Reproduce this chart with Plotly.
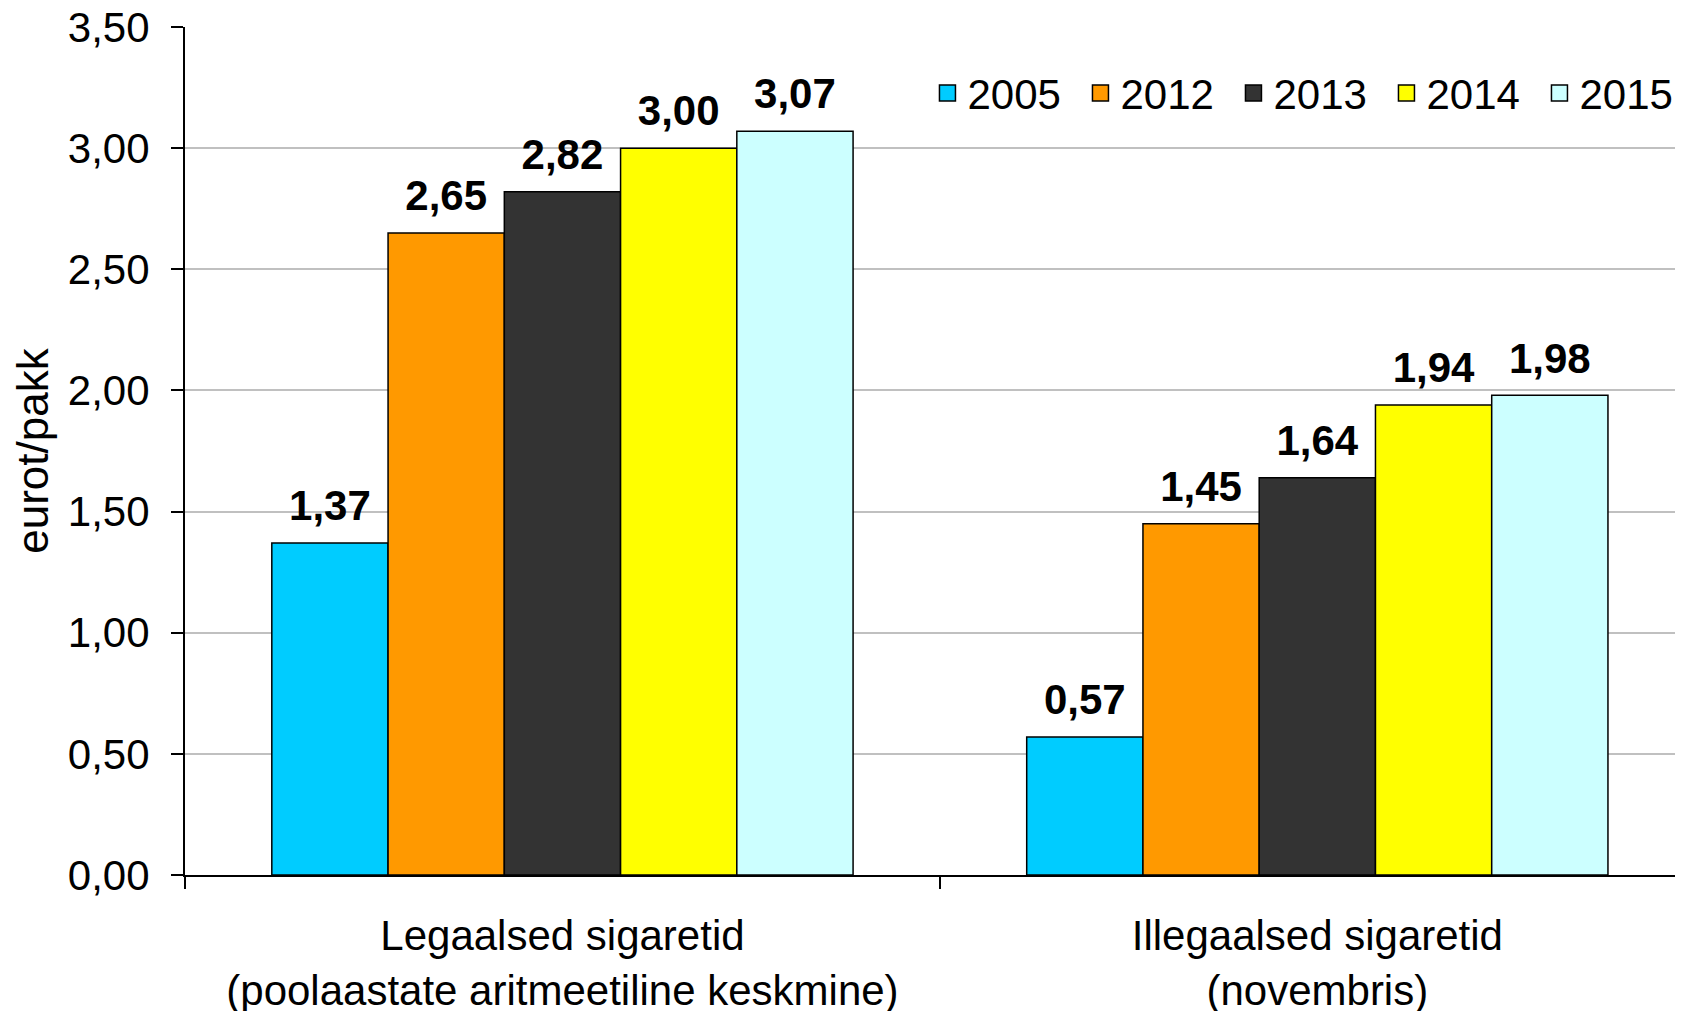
import plotly.graph_objects as go

categories = ["Legaalsed sigaretid<br>(poolaastate aritmeetiline keskmine)",
              "Illegaalsed sigaretid<br>(novembris)"]
years = ["2005", "2012", "2013", "2014", "2015"]
values = {
    "2005": [1.37, 0.57],
    "2012": [2.65, 1.45],
    "2013": [2.82, 1.64],
    "2014": [3.00, 1.94],
    "2015": [3.07, 1.98],
}
colors = {"2005": "#00CCFF", "2012": "#FF9900", "2013": "#333333",
          "2014": "#FFFF00", "2015": "#CCFFFF"}
y_ticks = [0, 0.5, 1, 1.5, 2, 2.5, 3, 3.5]
y_tick_labels = [f"{v:.2f}".replace(".", ",") for v in y_ticks]

FONT = "Liberation Sans, Arial, sans-serif"
FS = 42

fig = go.Figure()
for yr in years:
    vals = values[yr]
    fig.add_trace(go.Bar(
        name=yr, x=categories, y=vals, offsetgroup=yr, showlegend=False,
        marker=dict(color=colors[yr], line=dict(color="black", width=1.5)),
    ))
for yr in years:
    vals = values[yr]
    txt = [f"<b>{v:.2f}</b>".replace(".", ",") for v in vals]
    fig.add_trace(go.Scatter(
        x=categories, y=vals, offsetgroup=yr, mode="markers+text",
        text=txt, textposition="top center", cliponaxis=False,
        marker=dict(size=18, color="rgba(0,0,0,0)"), hoverinfo="skip",
        textfont=dict(family=FONT, size=FS, color="black"), showlegend=False,
    ))
for yr in years:
    fig.add_trace(go.Scatter(
        x=[None], y=[None], offsetgroup=yr, mode="markers", name=yr,
        marker=dict(symbol="square", size=20, color=colors[yr],
                    line=dict(color="black", width=1.5)),
    ))

fig.update_layout(
    width=1683, height=1011,
    margin=dict(l=177, r=0, t=19, b=144, autoexpand=False),
    paper_bgcolor="white", plot_bgcolor="white",
    barmode="group", bargap=0.23, bargroupgap=0,
    scattermode="group", scattergap=0.23,
    font=dict(family=FONT, size=FS, color="black"),
    showlegend=True,
    legend=dict(orientation="h", xref="paper", yref="paper",
                x=0.493, y=0.922, xanchor="left", yanchor="middle",
                font=dict(family=FONT, size=FS, color="black"),
                entrywidth=108, bgcolor="rgba(0,0,0,0)",
                traceorder="normal", itemsizing="trace", itemwidth=30),
    xaxis=dict(type="category", range=[-0.5, 1.495], automargin=False,
               showline=True, linecolor="black", linewidth=2,
               ticks="outside", tickson="boundaries", ticklen=12,
               tickcolor="black", tickwidth=2,
               ticklabelstandoff=23, ticklabeloverflow="allow",
               tickfont=dict(family=FONT, size=FS)),
    yaxis=dict(range=[0, 3.5], tickvals=y_ticks, ticktext=y_tick_labels,
               automargin=False, ticklabeloverflow="allow",
               showline=True, linecolor="black", linewidth=2,
               ticks="outside", ticklen=12, tickcolor="black", tickwidth=2,
               showgrid=True, gridcolor="#C0C0C0", gridwidth=2,
               zeroline=False, ticklabelstandoff=13,
               tickfont=dict(family=FONT, size=FS),
               title=dict(text="eurot/pakk", standoff=6,
                          font=dict(family=FONT, size=44))),
)

fig.write_html("out.html")
